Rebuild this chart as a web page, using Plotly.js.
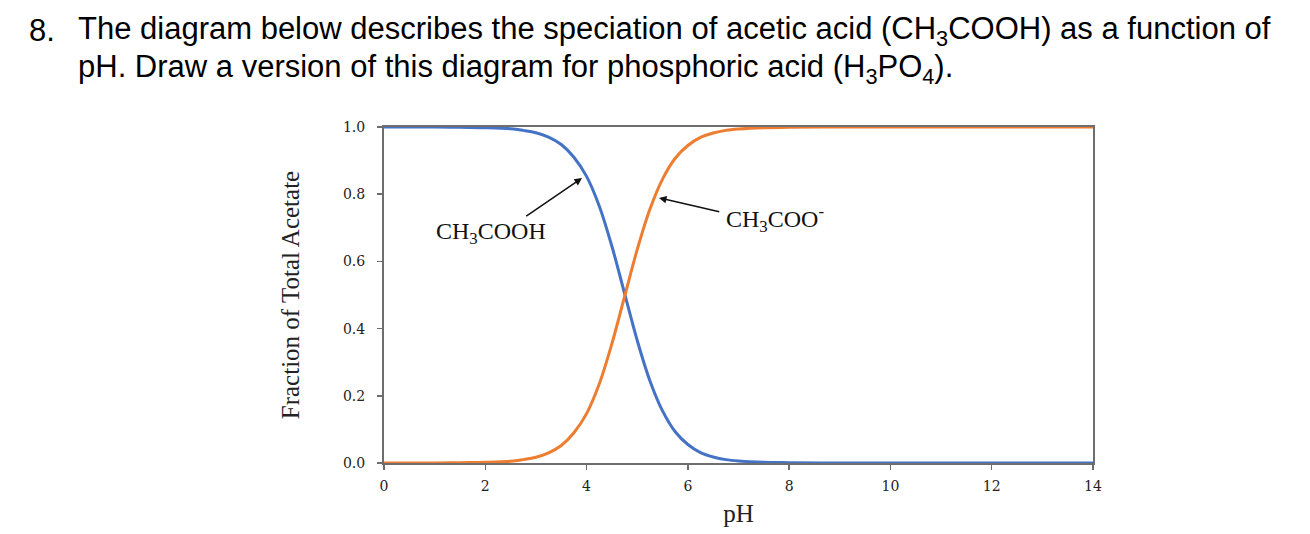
<!DOCTYPE html>
<html>
<head>
<meta charset="utf-8">
<script src="https://cdn.plot.ly/plotly-3.0.1.min.js"></script>
<style>html,body{margin:0;padding:0;background:#fff;}#chart{width:1310px;height:534px;}</style>
</head>
<body>
<div id="chart"></div>
<script>
// pH values
const pH = [0,0.5,1,1.5,2,2.5,2.75,3,3.25,3.5,3.75,4,4.25,4.5,4.75,5,5.25,5.5,5.75,6,6.25,6.5,6.75,7,7.5,8,9,10,11,12,13,14];
// Fraction CH3COOH
const acid = [1,1,1,0.999,0.998,0.995,0.99,0.983,0.97,0.948,0.91,0.853,0.765,0.645,0.505,0.365,0.245,0.155,0.093,0.055,0.031,0.018,0.01,0.006,0.002,0.001,0,0,0,0,0,0];
// Fraction CH3COO-
const base = [0,0,0,0.001,0.002,0.005,0.01,0.017,0.03,0.052,0.09,0.147,0.235,0.355,0.495,0.635,0.755,0.845,0.907,0.945,0.969,0.982,0.99,0.994,0.998,0.999,1,1,1,1,1,1];
const xTicks = [0,2,4,6,8,10,12,14];
const yTicks = [0,0.2,0.4,0.6,0.8,1.0];

const serif = "Liberation Serif, DejaVu Serif, serif";
const tickSerif = "DejaVu Serif, Liberation Serif, serif";
const sans = "Liberation Sans, Arial, sans-serif";

const traces = [
  {x: pH, y: acid, mode: 'lines', line: {color: '#4472C4', width: 3, shape: 'spline'}, name: 'CH3COOH', hoverinfo: 'skip'},
  {x: pH, y: base, mode: 'lines', line: {color: '#ED7D31', width: 3, shape: 'spline'}, name: 'CH3COO-', hoverinfo: 'skip'}
];

const layout = {
  width: 1310, height: 534,
  margin: {l: 384, r: 217, t: 127, b: 71},
  paper_bgcolor: '#fff', plot_bgcolor: '#fff',
  showlegend: false,
  xaxis: {
    range: [0, 14], tickvals: xTicks, ticktext: xTicks.map(String),
    showgrid: false, zeroline: false, showline: true, mirror: true,
    linecolor: '#6e6e6e', linewidth: 2, ticks: 'outside', ticklen: 5, tickwidth: 1.5, tickcolor: '#6e6e6e',
    ticklabelstandoff: 4,
    tickfont: {family: tickSerif, size: 14, color: '#222'},
    title: {text: 'pH', font: {family: serif, size: 25, color: '#222'}, standoff: 12}
  },
  yaxis: {
    range: [0, 1], tickvals: yTicks, tickformat: '.1f',
    showgrid: false, zeroline: false, showline: true, mirror: true,
    linecolor: '#6e6e6e', linewidth: 2, ticks: 'outside', ticklen: 5, tickwidth: 1.5, tickcolor: '#6e6e6e',
    ticklabelstandoff: 9,
    tickfont: {family: tickSerif, size: 14, color: '#222'},
    title: {text: 'Fraction of Total Acetate', font: {family: serif, size: 25, color: '#222'}, standoff: 36}
  },
  annotations: [
    {xref: 'x', yref: 'y', x: 3.91, y: 0.848, ax: 2.78, ay: 0.732, axref: 'x', ayref: 'y',
     showarrow: true, arrowhead: 2, arrowsize: 1, arrowwidth: 1.5, arrowcolor: '#111', text: ''},
    {xref: 'x', yref: 'y', x: 5.43, y: 0.789, ax: 6.65, ay: 0.747, axref: 'x', ayref: 'y',
     showarrow: true, arrowhead: 2, arrowsize: 1, arrowwidth: 1.5, arrowcolor: '#111', text: ''},
    {xref: 'x', yref: 'y', x: 2.11, y: 0.685, showarrow: false, text: 'CH<sub>3</sub>COOH',
     font: {family: serif, size: 24, color: '#111'}},
    {xref: 'x', yref: 'y', x: 7.72, y: 0.727, showarrow: false, text: 'CH<sub>3</sub>COO<sup>-</sup>',
     font: {family: serif, size: 24, color: '#111'}},
    {xref: 'paper', yref: 'paper', x: (27-384)/709, y: (463-31)/336, xanchor: 'left', yanchor: 'middle',
     showarrow: false, text: '8.', font: {family: sans, size: 31, color: '#000'}},
    {xref: 'paper', yref: 'paper', x: (76-384)/709, y: (463-31)/336, xanchor: 'left', yanchor: 'middle',
     showarrow: false, text: 'The diagram below describes the speciation of acetic acid (CH<sub>3</sub>COOH) as a function of',
     font: {family: sans, size: 31, color: '#000'}},
    {xref: 'paper', yref: 'paper', x: (76-384)/709, y: (463-69)/336, xanchor: 'left', yanchor: 'middle',
     showarrow: false, text: 'pH. Draw a version of this diagram for phosphoric acid (H<sub>3</sub>PO<sub>4</sub>).',
     font: {family: sans, size: 31, color: '#000'}}
  ]
};

Plotly.newPlot('chart', traces, layout, {displayModeBar: false, staticPlot: true});
</script>
</body>
</html>
